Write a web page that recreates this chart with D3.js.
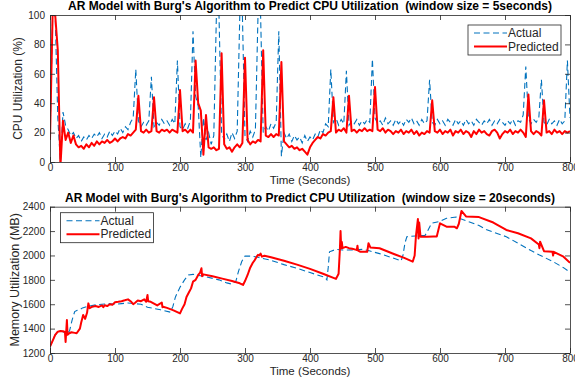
<!DOCTYPE html>
<html><head><meta charset="utf-8">
<script src="https://cdn.jsdelivr.net/npm/d3@7/dist/d3.min.js"></script>
<style>
html,body{margin:0;padding:0;background:#fff;}
svg{display:block;font-family:"Liberation Sans",Arial,Helvetica,sans-serif;}
</style></head>
<body>
<svg id="chart" width="575" height="389"></svg>
<script>
// ---------- DATA ----------
const cpuStep = 4; // seconds between CPU samples
const cpuActual = [15,100,100,30,0,34,25,22,18,20,16,18,14,17,15,18,16,19,17,20,
16,19,17,21,18,21,19,23,20,24,22,27,30,63,28,24,27,25,28,58,
24,27,25,29,26,28,25,29,26,69,24,22,26,23,28,89,45,38,3,30,
15,20,12,18,100,100,20,15,19,14,20,16,21,100,100,18,14,21,17,22,
100,100,20,24,21,26,23,27,89,4,20,16,19,14,18,15,17,13,18,14,
17,15,19,17,22,20,26,24,63,27,30,25,29,26,62,25,28,26,29,25,
28,26,29,27,70,30,26,28,25,30,26,28,25,29,26,28,25,29,27,30,
26,28,25,29,26,28,56,27,25,29,26,28,25,29,27,25,29,26,28,25,
29,26,28,25,29,27,25,28,26,29,25,28,26,29,27,25,28,26,29,25,
28,27,32,65,30,26,29,27,30,56,27,25,29,26,28,25,29,26,28,69,30];
const cpuPredicted = [15,100,100,76,-3,28,15,20,13,18,12,10,11,9,12,10,13,11,14,12,
14,13,15,13,14,16,14,16,17,16,19,18,20,22,45,21,20,22,20,21,
44,21,20,22,21,22,20,22,21,20,49,21,22,20,22,20,69,40,35,5,
32,10,9,10,8,9,74,12,9,10,7,10,12,10,13,71,15,12,14,13,
15,14,76,18,17,19,17,19,18,68,14,12,10,11,9,10,8,9,7,5,
10,13,15,17,16,19,18,20,21,44,20,22,21,23,20,45,21,22,20,22,
21,23,21,22,21,51,22,21,23,20,22,21,19,21,20,22,19,21,20,22,
19,21,18,20,19,21,20,42,21,20,22,19,21,20,22,18,21,20,22,19,
21,20,17,21,19,22,20,21,19,18,21,22,20,16,19,21,20,22,19,21,
20,22,20,17,46,21,19,21,20,18,42,20,21,19,22,20,21,19,21,20,21];

const memActualTime = [0,8,16,22,26,30,34,38,42,46,50,60,70,80,90,100,110,120,130,140,150,160,170,185,189,193,200,207,213,220,240,260,272,280,286,290,295,300,310,320,340,360,380,400,423,426,428,430,440,450,470,480,490,507,530,540,543,546,549,562,577,580,587,600,610,625,640,660,672,680,702,720,740,753,774,790,800];
const memActual = [1250,1350,1380,1370,1360,1380,1470,1540,1550,1557,1570,1585,1595,1600,1605,1600,1605,1610,1605,1600,1575,1565,1555,1535,1580,1660,1740,1800,1840,1845,1825,1800,1775,1765,1790,1870,1950,1995,1995,1985,1960,1925,1895,1860,1820,1800,1900,2030,2050,2045,2045,2050,2040,2015,1975,1955,2000,2100,2154,2160,2165,2190,2264,2280,2305,2315,2285,2245,2210,2195,2154,2100,2040,2004,1949,1900,1862];
const memPredTime = [0,4,8,12,16,20,23,24,25,26,27,29,33,38,41,46,48,51,54,57,59,61,65,70,75,80,82,84,88,92,96,100,105,110,115,120,125,128,131,135,140,145,148,150,151,155,160,165,172,173,174,180,190,200,203,207,210,214,217,220,224,228,231,233,234,236,250,265,280,292,297,300,304,308,312,315,318,320,322,324,326,330,340,360,380,400,420,440,444,446,447,448,449,450,455,460,465,470,472,473,474,477,488,490,493,507,530,545,558,561,563,566,567,568,570,580,590,595,600,610,622,626,629,633,640,660,682,702,720,740,752,753,754,760,773,774,775,790,800];
const memPred = [1252,1300,1348,1375,1380,1378,1372,1290,1380,1471,1350,1360,1370,1365,1362,1400,1450,1512,1480,1530,1607,1567,1580,1585,1578,1590,1575,1592,1585,1600,1595,1616,1620,1625,1632,1640,1620,1600,1612,1630,1625,1640,1620,1676,1625,1620,1605,1590,1614,1576,1580,1570,1550,1525,1560,1600,1660,1700,1730,1785,1800,1840,1860,1895,1830,1845,1830,1810,1790,1772,1758,1790,1840,1900,1940,1962,1990,2005,2000,2015,1990,1998,1985,1957,1925,1890,1850,1808,1850,2050,2200,2060,2110,2060,2070,2060,2055,2048,2045,2080,2040,2031,2030,2100,2065,2059,2010,1980,1949,2000,2160,2299,2140,2270,2154,2154,2155,2155,2264,2236,2236,2223,2260,2365,2320,2315,2270,2209,2182,2140,2090,2060,2113,2035,2031,2000,2030,1990,1940,1900];

const xTicks = [0,100,200,300,400,500,600,700,800];
const cpuTicks = [0,20,40,60,80,100];
const memTicks = [1200,1400,1600,1800,2000,2200,2400];
const seriesNames = ["Actual","Predicted"];
const titles = ["AR Model with Burg's Algorithm to Predict CPU Utilization  (window size = 5seconds)",
                "AR Model with Burg's Algorithm to Predict CPU Utilization  (window size = 20seconds)"];
const yLabels = ["CPU Utilization (%)","Memory Utilization (MB)"];
const xLabel = "Time (Seconds)";

// ---------- DRAW ----------
const svg = d3.select("#chart");
const AX = "#262626", BLUE = "#0072BD", RED = "#FF0000";
const L = 50, R = 570;

function panel(idx, top, bottom, yDomain, yTicks, actual, pred, legendPos, titleY, titleW, yLabX, yLabSize) {
  const x = d3.scaleLinear().domain([0,800]).range([L,R]);
  const y = d3.scaleLinear().domain(yDomain).range([bottom, top]);
  const g = svg.append("g");
  const clipId = "clip"+idx;
  svg.append("clipPath").attr("id",clipId).append("rect")
    .attr("x",L).attr("y",top).attr("width",R-L).attr("height",bottom-top);

  const line = d3.line().x(d=>x(d[0])).y(d=>y(d[1]));
  const lines = g.append("g").attr("clip-path",`url(#${clipId})`);
  lines.append("path").datum(actual).attr("d",line)
    .attr("fill","none").attr("stroke",BLUE).attr("stroke-width",1.1)
    .attr("stroke-dasharray","6,3.5");
  lines.append("path").datum(pred).attr("d",line)
    .attr("fill","none").attr("stroke",RED).attr("stroke-width",2)
    .attr("stroke-linejoin","round");

  const fmt = d3.format("d");
  const axB = d3.axisBottom(x).tickValues(xTicks).tickFormat(fmt).tickSizeInner(-5).tickSizeOuter(0).tickPadding(2);
  const axT = d3.axisTop(x).tickValues(xTicks).tickFormat("").tickSizeInner(-5).tickSizeOuter(0);
  const axL = d3.axisLeft(y).tickValues(yTicks).tickFormat(fmt).tickSizeInner(-5).tickSizeOuter(0).tickPadding(5);
  const axR = d3.axisRight(y).tickValues(yTicks).tickFormat("").tickSizeInner(-5).tickSizeOuter(0);
  const style = s => { s.selectAll("path").attr("stroke",AX).attr("stroke-width",0.8);
    s.selectAll("line").attr("stroke",AX).attr("stroke-width",0.8);
    s.selectAll("text").attr("fill",AX).style("font-size","10px").style("font-family","'Liberation Sans',Arial,sans-serif"); };
  g.append("g").attr("transform",`translate(0,${bottom})`).call(axB).call(style);
  g.append("g").attr("transform",`translate(0,${top})`).call(axT).call(style);
  g.append("g").attr("transform",`translate(${L},0)`).call(axL).call(style);
  g.append("g").attr("transform",`translate(${R},0)`).call(axR).call(style);

  g.append("text").attr("x",(L+R)/2).attr("y",titleY).attr("text-anchor","middle")
    .attr("xml:space","preserve").style("white-space","pre")
    .attr("textLength",titleW).attr("lengthAdjust","spacing")
    .attr("font-weight","bold").attr("font-size","12px").attr("fill","#000").text(titles[idx]);
  g.append("text").attr("x",(L+R)/2).attr("y",bottom+22).attr("text-anchor","middle")
    .attr("font-size","11.5px").attr("fill",AX).text(xLabel);
  g.append("text").attr("transform",`translate(${yLabX},${(top+bottom)/2}) rotate(-90)`)
    .attr("text-anchor","middle").attr("font-size",yLabSize).attr("fill",AX).text(yLabels[idx]);

  // legend
  const lg = g.append("g").attr("transform",`translate(${legendPos[0]},${legendPos[1]})`);
  lg.append("rect").attr("width",93).attr("height",30).attr("fill","#fff")
    .attr("stroke",AX).attr("stroke-width",0.8);
  const cols = [BLUE, RED];
  seriesNames.forEach((n,i)=>{
    const yy = 8 + i*13.5;
    lg.append("line").attr("x1",6).attr("x2",39).attr("y1",yy).attr("y2",yy)
      .attr("stroke",cols[i]).attr("stroke-width",i?2:1.1).attr("stroke-dasharray",i?null:"6,3.5");
    lg.append("text").attr("x",40).attr("y",yy+4.2).attr("font-size","12px").attr("fill",AX).text(n);
  });
}

const cpuA = cpuActual.map((v,i)=>[i*cpuStep, v]);
const cpuP = cpuPredicted.map((v,i)=>[i*cpuStep, v]);
const memA = memActualTime.map((t,i)=>[t, memActual[i]]);
const memP = memPredTime.map((t,i)=>[t, memPred[i]]);

panel(0, 15, 162, [0,100], cpuTicks, cpuA, cpuP, [468,25], 10, 484, 22, "12px");
panel(1, 206.7, 353, [1200,2400], memTicks, memA, memP, [60.5,212.7], 202, 490, 18.5, "12.5px");
</script>
</body></html>
